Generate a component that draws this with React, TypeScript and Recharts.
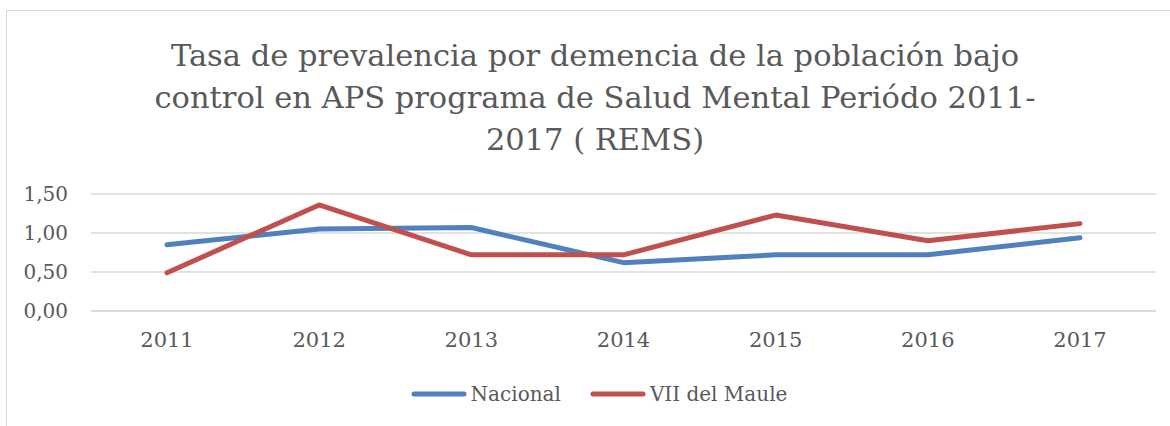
import { LineChart, Line, XAxis, YAxis, CartesianGrid, Legend } from 'recharts';

const years = ['2011', '2012', '2013', '2014', '2015', '2016', '2017'];
const nacional = [0.85, 1.05, 1.07, 0.62, 0.72, 0.72, 0.94];
const maule = [0.49, 1.36, 0.72, 0.72, 1.23, 0.9, 1.12];
const yTicks = [0, 0.5, 1, 1.5];
const titleLines = [
  'Tasa de prevalencia por demencia de la población bajo',
  'control en APS programa de Salud Mental Periódo 2011-',
  '2017 ( REMS)',
];

const FONT = '"DejaVu Serif", serif';
const TEXT = '#595959';

const data = years.map((year, i) => ({
  year,
  Nacional: nacional[i],
  'VII del Maule': maule[i],
}));

// legend: long line swatch followed by label
function LegendContent({ payload }: any) {
  return (
    <div
      style={{
        display: 'flex',
        justifyContent: 'center',
        paddingLeft: 11,
        fontFamily: FONT,
        fontSize: 20,
        color: TEXT,
        lineHeight: '16px',
      }}
    >
      {(payload || []).map((p: any, i: number) => (
        <div key={p.value} style={{ display: 'flex', alignItems: 'center', marginLeft: i ? 29 : 0 }}>
          <svg width={56} height={8} style={{ marginRight: 4 }}>
            <line x1={3} y1={4} x2={53} y2={4} stroke={p.color} strokeWidth={5} strokeLinecap="round" />
          </svg>
          <span>{p.value}</span>
        </div>
      ))}
    </div>
  );
}

export default function App() {
  return (
    <div style={{ position: 'absolute', left: 0, top: 0, width: 1170, height: 426, overflow: 'hidden', background: '#fff' }}>
      <div
        style={{
          position: 'absolute',
          left: 6,
          top: 10,
          width: 1200,
          height: 440,
          border: '1px solid #d9d9d9',
        }}
      />
      <div
        style={{
          position: 'absolute',
          left: 0,
          top: 35,
          width: 1190,
          textAlign: 'center',
          fontFamily: FONT,
          fontSize: 30.5,
          lineHeight: '42px',
          color: TEXT,
          whiteSpace: 'nowrap',
        }}
      >
        {titleLines.map((t) => (
          <div key={t}>{t}</div>
        ))}
      </div>
      <div style={{ position: 'absolute', left: 0, top: 0 }}>
        <LineChart width={1170} height={426} data={data} margin={{ top: 194, right: 14, left: 31, bottom: 0 }}>
          <CartesianGrid vertical={false} stroke="#d9d9d9" strokeWidth={1.5} />
          <XAxis
            dataKey="year"
            axisLine={{ stroke: '#d9d9d9', strokeWidth: 1.5 }}
            tickLine={false}
            tickSize={0}
            tickMargin={21}
            height={75}
            padding={{ left: 76, right: 76 }}
            tick={{ fill: TEXT, fontSize: 21, fontFamily: FONT }}
          />
          <YAxis
            domain={[0, 1.5]}
            ticks={yTicks}
            axisLine={false}
            tickLine={false}
            tickSize={0}
            tickMargin={23}
            width={60}
            tickFormatter={(v: number) => v.toFixed(2).replace('.', ',')}
            tick={{ fill: TEXT, fontSize: 20, fontFamily: FONT }}
          />
          <Legend verticalAlign="bottom" height={40} content={<LegendContent />} />
          <Line
            dataKey="Nacional"
            stroke="#4f81bd"
            strokeWidth={5}
            strokeLinecap="round"
            strokeLinejoin="round"
            dot={false}
            isAnimationActive={false}
          />
          <Line
            dataKey="VII del Maule"
            stroke="#c0504d"
            strokeWidth={5}
            strokeLinecap="round"
            strokeLinejoin="round"
            dot={false}
            isAnimationActive={false}
          />
        </LineChart>
      </div>
    </div>
  );
}
